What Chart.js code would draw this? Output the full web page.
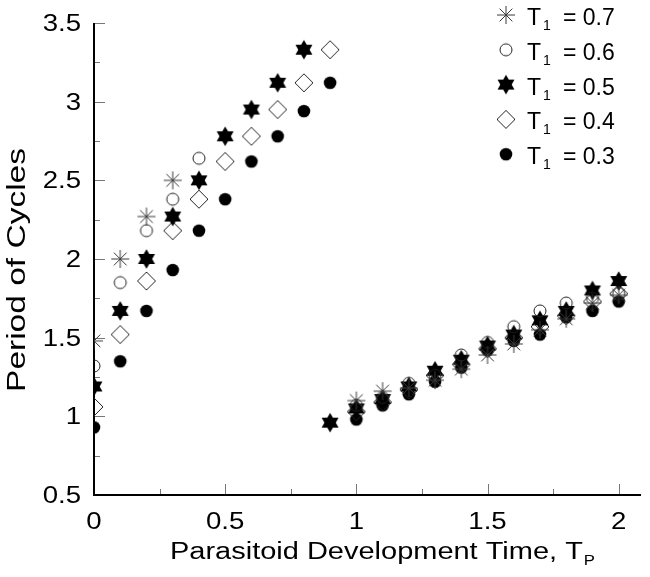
<!DOCTYPE html>
<html>
<head>
<meta charset="utf-8">
<script src="https://cdn.jsdelivr.net/npm/chart.js@4/dist/chart.umd.min.js"></script>
<style>
  html, body { margin: 0; padding: 0; background: #fff; }
</style>
</head>
<body>
<canvas id="cycleChart" width="650" height="577"></canvas>
<script>
// Parasitoid development time T_P (x values)
const tp = [0, 0.1, 0.2, 0.3, 0.4, 0.5, 0.6, 0.7, 0.8, 0.9, 1.0,
            1.1, 1.2, 1.3, 1.4, 1.5, 1.6, 1.7, 1.8, 1.9, 2.0];

// Period of cycles for each T1 (null = no point)
const t1_07 = [1.48, 2.00, 2.27, 2.50, null, null, null, null, null, null, 1.10,
               1.16, 1.18, 1.23, 1.30, 1.39, 1.46, 1.55, 1.62, 1.72, 1.77];
const t1_06 = [1.32, 1.85, 2.18, 2.38, 2.64, null, null, null, null, null, 1.07,
               1.12, 1.21, 1.26, 1.39, 1.47, 1.57, 1.67, 1.72, 1.75, 1.78];
const t1_05 = [1.19, 1.67, 2.00, 2.27, 2.50, 2.78, 2.95, 3.12, 3.33, 0.96, 1.05,
               1.11, 1.19, 1.29, 1.36, 1.45, 1.52, 1.61, 1.67, 1.80, 1.86];
const t1_04 = [1.06, 1.52, 1.86, 2.18, 2.38, 2.62, 2.78, 2.95, 3.12, 3.33, 1.03,
               1.09, 1.17, 1.26, 1.33, 1.43, 1.50, 1.57, 1.64, 1.73, 1.78];
const t1_03 = [0.93, 1.35, 1.67, 1.93, 2.18, 2.38, 2.62, 2.78, 2.94, 3.12, 0.98,
               1.07, 1.14, 1.22, 1.31, 1.42, 1.48, 1.52, 1.63, 1.67, 1.73];

const seriesNames = ['0.7', '0.6', '0.5', '0.4', '0.3'];

// Axis ticks
const xMajor = [0, 0.5, 1, 1.5, 2];
const xMinor = [0.25, 0.75, 1.25, 1.75];
const xLabels = ['0', '0.5', '1', '1.5', '2'];
const yMajor = [0.5, 1, 1.5, 2, 2.5, 3, 3.5];
const yMinor = [0.75, 1.25, 1.75, 2.25, 2.75, 3.25];
const yLabels = ['0.5', '1', '1.5', '2', '2.5', '3', '3.5'];

const FONT = '"Liberation Sans", Arial, Helvetica, sans-serif';

// ---- marker images ----
function makeMarker(kind) {
  const c = document.createElement('canvas');
  c.width = 26; c.height = 26;
  const g = c.getContext('2d');
  g.translate(13, 13);
  if (kind === 'asterisk') {
    g.strokeStyle = '#3a3a3a';
    g.lineWidth = 1;
    g.beginPath();
    for (let k = 0; k < 4; k++) {
      const a = k * Math.PI / 4;
      g.moveTo(-9 * Math.cos(a), -9 * Math.sin(a));
      g.lineTo(9 * Math.cos(a), 9 * Math.sin(a));
    }
    g.stroke();
  } else if (kind === 'circle') {
    g.strokeStyle = '#222';
    g.lineWidth = 1;
    g.beginPath();
    g.arc(0, 0, 6, 0, Math.PI * 2);
    g.stroke();
  } else if (kind === 'star6') {
    const R = 9.8, r = R / Math.sqrt(3);
    g.fillStyle = '#000';
    g.beginPath();
    for (let k = 0; k < 12; k++) {
      const a = -Math.PI / 2 + k * Math.PI / 6;
      const rr = k % 2 === 0 ? R : r;
      g.lineTo(rr * Math.cos(a), rr * Math.sin(a));
    }
    g.closePath();
    g.fill();
  } else if (kind === 'diamond') {
    g.strokeStyle = '#222';
    g.lineWidth = 1;
    g.beginPath();
    g.moveTo(0, -9); g.lineTo(9, 0); g.lineTo(0, 9); g.lineTo(-9, 0);
    g.closePath();
    g.stroke();
  } else {
    g.fillStyle = '#000';
    g.beginPath();
    g.arc(0, 0, 6.3, 0, Math.PI * 2);
    g.fill();
  }
  return c;
}

const markers = ['asterisk', 'circle', 'star6', 'diamond', 'dot'].map(makeMarker);

function toPoints(vals) {
  const pts = [];
  tp.forEach((x, i) => { if (vals[i] !== null) pts.push({ x: x, y: vals[i] }); });
  return pts;
}

const allSeries = [t1_07, t1_06, t1_05, t1_04, t1_03];

// draw a string stretched horizontally (the original fonts are wide)
function drawText(g, text, x, y, size, sx, align) {
  g.save();
  g.translate(x, y);
  g.scale(sx, 1);
  g.font = size + 'px ' + FONT;
  g.textAlign = align || 'left';
  g.textBaseline = 'alphabetic';
  g.fillText(text, 0, 0);
  const w = g.measureText(text).width * sx;
  g.restore();
  return w;
}

// ---- axes, ticks and labels ----
const axesPlugin = {
  id: 'axesPlugin',
  beforeDatasetsDraw(chart) {
    const g = chart.ctx;
    const xs = chart.scales.x, ys = chart.scales.y;
    const area = chart.chartArea;
    g.save();
    // tick marks, pointing inside
    g.strokeStyle = '#777';
    g.lineWidth = 1;
    g.beginPath();
    yMajor.forEach(v => { const p = Math.round(ys.getPixelForValue(v)) + 0.5; g.moveTo(area.left, p); g.lineTo(area.left + 11, p); });
    yMinor.forEach(v => { const p = Math.round(ys.getPixelForValue(v)) + 0.5; g.moveTo(area.left, p); g.lineTo(area.left + 6, p); });
    xMajor.forEach(v => { const p = Math.round(xs.getPixelForValue(v)) + 0.5; g.moveTo(p, area.bottom); g.lineTo(p, area.bottom - 11); });
    xMinor.forEach(v => { const p = Math.round(xs.getPixelForValue(v)) + 0.5; g.moveTo(p, area.bottom); g.lineTo(p, area.bottom - 6); });
    g.stroke();
    // axis lines
    g.strokeStyle = '#000';
    g.lineWidth = 2;
    g.beginPath();
    g.moveTo(area.left, area.top);
    g.lineTo(area.left, area.bottom);
    g.lineTo(area.right, area.bottom);
    g.stroke();
    // tick labels
    g.fillStyle = '#000';
    yMajor.forEach((v, i) => {
      drawText(g, yLabels[i], 81, ys.getPixelForValue(v) + 8, 23, 1.2, 'right');
    });
    xMajor.forEach((v, i) => {
      drawText(g, xLabels[i], xs.getPixelForValue(v), 529, 23, 1.2, 'center');
    });
    // x title with subscript P
    const w = drawText(g, 'Parasitoid Development Time, T', 170, 559, 23, 1.26, 'left');
    drawText(g, 'P', 170 + w + 1, 565, 14, 1.2, 'left');
    // y title
    g.save();
    g.translate(25, 270);
    g.rotate(-Math.PI / 2);
    g.scale(1.34, 1);
    g.font = '25px ' + FONT;
    g.textAlign = 'center';
    g.textBaseline = 'alphabetic';
    g.fillText('Period of Cycles', 0, 0);
    g.restore();
    g.restore();
  },
  afterDraw(chart) {
    // legend, top right
    const g = chart.ctx;
    g.save();
    g.fillStyle = '#000';
    seriesNames.forEach((name, i) => {
      const cy = 15 + 34.8 * i;
      const m = markers[i];
      g.drawImage(m, 506 - m.width / 2, cy - m.height / 2);
      drawText(g, 'T', 527, cy + 10, 23, 1, 'left');
      drawText(g, '1', 543, cy + 15, 14, 1, 'left');
      drawText(g, '= ' + name, 563, cy + 10, 23, 1, 'left');
    });
    g.restore();
  }
};

const ctx = document.getElementById('cycleChart').getContext('2d');

const cycleChart = new Chart(ctx, {
  type: 'scatter',
  data: {
    datasets: allSeries.map((vals, i) => ({
      label: 'T1 = ' + seriesNames[i],
      data: toPoints(vals),
      pointStyle: markers[i],
      pointRadius: 8,
      showLine: false,
      clip: 0
    }))
  },
  options: {
    responsive: false,
    animation: false,
    devicePixelRatio: 1,
    events: [],
    layout: { padding: { left: 94, top: 23, right: 0, bottom: 82 } },
    scales: {
      x: { type: 'linear', min: 0, max: 2.085, display: false },
      y: { type: 'linear', min: 0.5, max: 3.5, display: false }
    },
    plugins: {
      legend: { display: false },
      tooltip: { enabled: false }
    }
  },
  plugins: [axesPlugin]
});
</script>
</body>
</html>
